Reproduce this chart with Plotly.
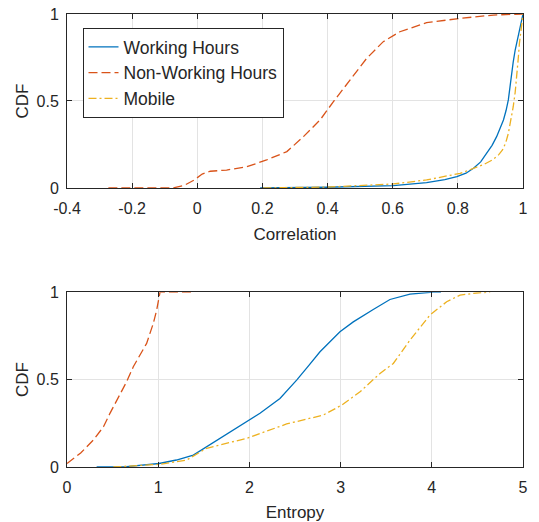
import plotly.graph_objects as go

# ---- Top panel: Correlation CDF ----
corr_work_x = [0.193, 0.397, 0.602, 0.704, 0.76, 0.797, 0.825, 0.848, 0.870, 0.889, 0.905, 0.919, 0.930, 0.940,
               0.948, 0.955, 0.960, 0.965, 0.970, 0.976, 0.982, 0.989, 0.995, 1.0]
corr_work_y = [0.0, 0.004, 0.013, 0.031, 0.048, 0.065, 0.085, 0.113, 0.150, 0.199, 0.245, 0.295, 0.340, 0.391,
               0.445, 0.506, 0.580, 0.659, 0.725, 0.793, 0.850, 0.908, 0.955, 1.0]

corr_nonwork_x = [-0.273, -0.074, -0.04, -0.01, 0.015, 0.040, 0.090, 0.152, 0.213, 0.275, 0.326, 0.377, 0.418,
                  0.469, 0.520, 0.571, 0.622, 0.704, 0.807, 0.909, 1.0]
corr_nonwork_y = [0.0, 0.0, 0.015, 0.045, 0.080, 0.096, 0.103, 0.122, 0.161, 0.209, 0.295, 0.391, 0.496,
                  0.621, 0.745, 0.841, 0.898, 0.950, 0.975, 0.994, 1.0]

corr_mobile_x = [0.203, 0.397, 0.602, 0.704, 0.807, 0.848, 0.880, 0.906, 0.925, 0.937, 0.947, 0.955, 0.963,
                 0.970, 0.976, 0.981, 0.985, 0.989, 0.995, 1.0]
corr_mobile_y = [0.0, 0.005, 0.023, 0.046, 0.084, 0.113, 0.135, 0.161, 0.190, 0.218, 0.260, 0.314, 0.385,
                 0.467, 0.550, 0.640, 0.735, 0.831, 0.920, 1.0]

# ---- Bottom panel: Entropy CDF ----
ent_work_x = [0.325, 0.654, 1.01, 1.20, 1.385, 1.53, 1.678, 1.82, 1.97, 2.116, 2.335, 2.518, 2.65, 2.774,
              2.993, 3.139, 3.358, 3.541, 3.761, 3.90, 4.016, 4.1]
ent_work_y = [0.0, 0.002, 0.02, 0.040, 0.068, 0.115, 0.164, 0.210, 0.259, 0.307, 0.392, 0.497, 0.580, 0.659,
              0.773, 0.830, 0.901, 0.958, 0.989, 0.996, 1.0, 1.0]

ent_nonwork_x = [0.0, 0.15, 0.289, 0.40, 0.471, 0.581, 0.654, 0.727, 0.80, 0.873, 0.946, 0.983, 1.02, 1.37]
ent_nonwork_y = [0.02, 0.08, 0.154, 0.23, 0.307, 0.411, 0.488, 0.573, 0.64, 0.707, 0.821, 0.897, 1.0, 1.0]

ent_mobile_x = [0.508, 1.01, 1.312, 1.531, 1.97, 2.408, 2.81, 3.012, 3.213, 3.432, 3.578, 3.761, 3.980,
                4.163, 4.309, 4.49, 4.64]
ent_mobile_y = [0.0, 0.015, 0.04, 0.107, 0.164, 0.246, 0.297, 0.354, 0.43, 0.535, 0.592, 0.726, 0.869,
                0.945, 0.983, 0.995, 1.0]

series_names = ["Working Hours", "Non-Working Hours", "Mobile"]
colors = ["#0072BD", "#D95319", "#EDB120"]
dashes = ["solid", "9px,4px", "8px,3px,2px,3px"]

corr_ticks = [-0.4, -0.2, 0, 0.2, 0.4, 0.6, 0.8, 1]
corr_ticktext = ["-0.4", "-0.2", "0", "0.2", "0.4", "0.6", "0.8", "1"]
ent_ticks = [0, 1, 2, 3, 4, 5]
y_ticks = [0, 0.5, 1]

fig = go.Figure()
top = [(corr_work_x, corr_work_y), (corr_nonwork_x, corr_nonwork_y), (corr_mobile_x, corr_mobile_y)]
bot = [(ent_work_x, ent_work_y), (ent_nonwork_x, ent_nonwork_y), (ent_mobile_x, ent_mobile_y)]
for i, (xs, ys) in enumerate(top):
    fig.add_trace(go.Scatter(x=xs, y=ys, mode="lines", name=series_names[i],
                             line=dict(color=colors[i], width=1.3, dash=dashes[i]),
                             xaxis="x", yaxis="y", showlegend=True))
for i, (xs, ys) in enumerate(bot):
    fig.add_trace(go.Scatter(x=xs, y=ys, mode="lines", name=series_names[i],
                             line=dict(color=colors[i], width=1.3, dash=dashes[i]),
                             xaxis="x2", yaxis="y2", showlegend=False))

font = dict(family="Liberation Sans, Arial, sans-serif", size=16, color="#262626")
tfont = dict(family="Liberation Sans, Arial, sans-serif", size=17, color="#262626")
axcommon = dict(showline=True, linecolor="#262626", linewidth=1, mirror="ticks",
                ticks="inside", ticklen=5, tickcolor="#262626", showgrid=True,
                gridcolor="#e3e3e3", gridwidth=1, zeroline=False, tickfont=font, automargin=False)
xcommon = dict(ticklabelstandoff=6, **axcommon)
ycommon = dict(ticklabelstandoff=4, **axcommon)

fig.update_layout(
    width=539, height=522,
    margin=dict(l=67, r=16, t=14, b=55),
    plot_bgcolor="white", paper_bgcolor="white",
    font=font,
    xaxis=dict(domain=[0, 1], anchor="y", range=[-0.4, 1], tickvals=corr_ticks, ticktext=corr_ticktext,
               title=dict(text="Correlation", font=tfont, standoff=11), **xcommon),
    yaxis=dict(domain=[0.616, 1], anchor="x", range=[0, 1], tickvals=y_ticks, ticktext=["0", "0.5", "1"],
               title=dict(text="CDF", font=tfont, standoff=3), **ycommon),
    xaxis2=dict(domain=[0, 1], anchor="y2", range=[0, 5], tickvals=ent_ticks,
                title=dict(text="Entropy", font=tfont, standoff=10), **xcommon),
    yaxis2=dict(domain=[0, 0.386], anchor="x2", range=[0, 1], tickvals=y_ticks, ticktext=["0", "0.5", "1"],
                title=dict(text="CDF", font=tfont, standoff=3), **ycommon),
    legend=dict(x=0.034, y=0.969, xanchor="left", yanchor="top",
                bgcolor="white", bordercolor="#262626", borderwidth=1,
                font=dict(family="Liberation Sans, Arial, sans-serif", size=17.5, color="#262626"),
                tracegroupgap=0, itemwidth=30),
    showlegend=True,
)

fig.write_html("out.html")
